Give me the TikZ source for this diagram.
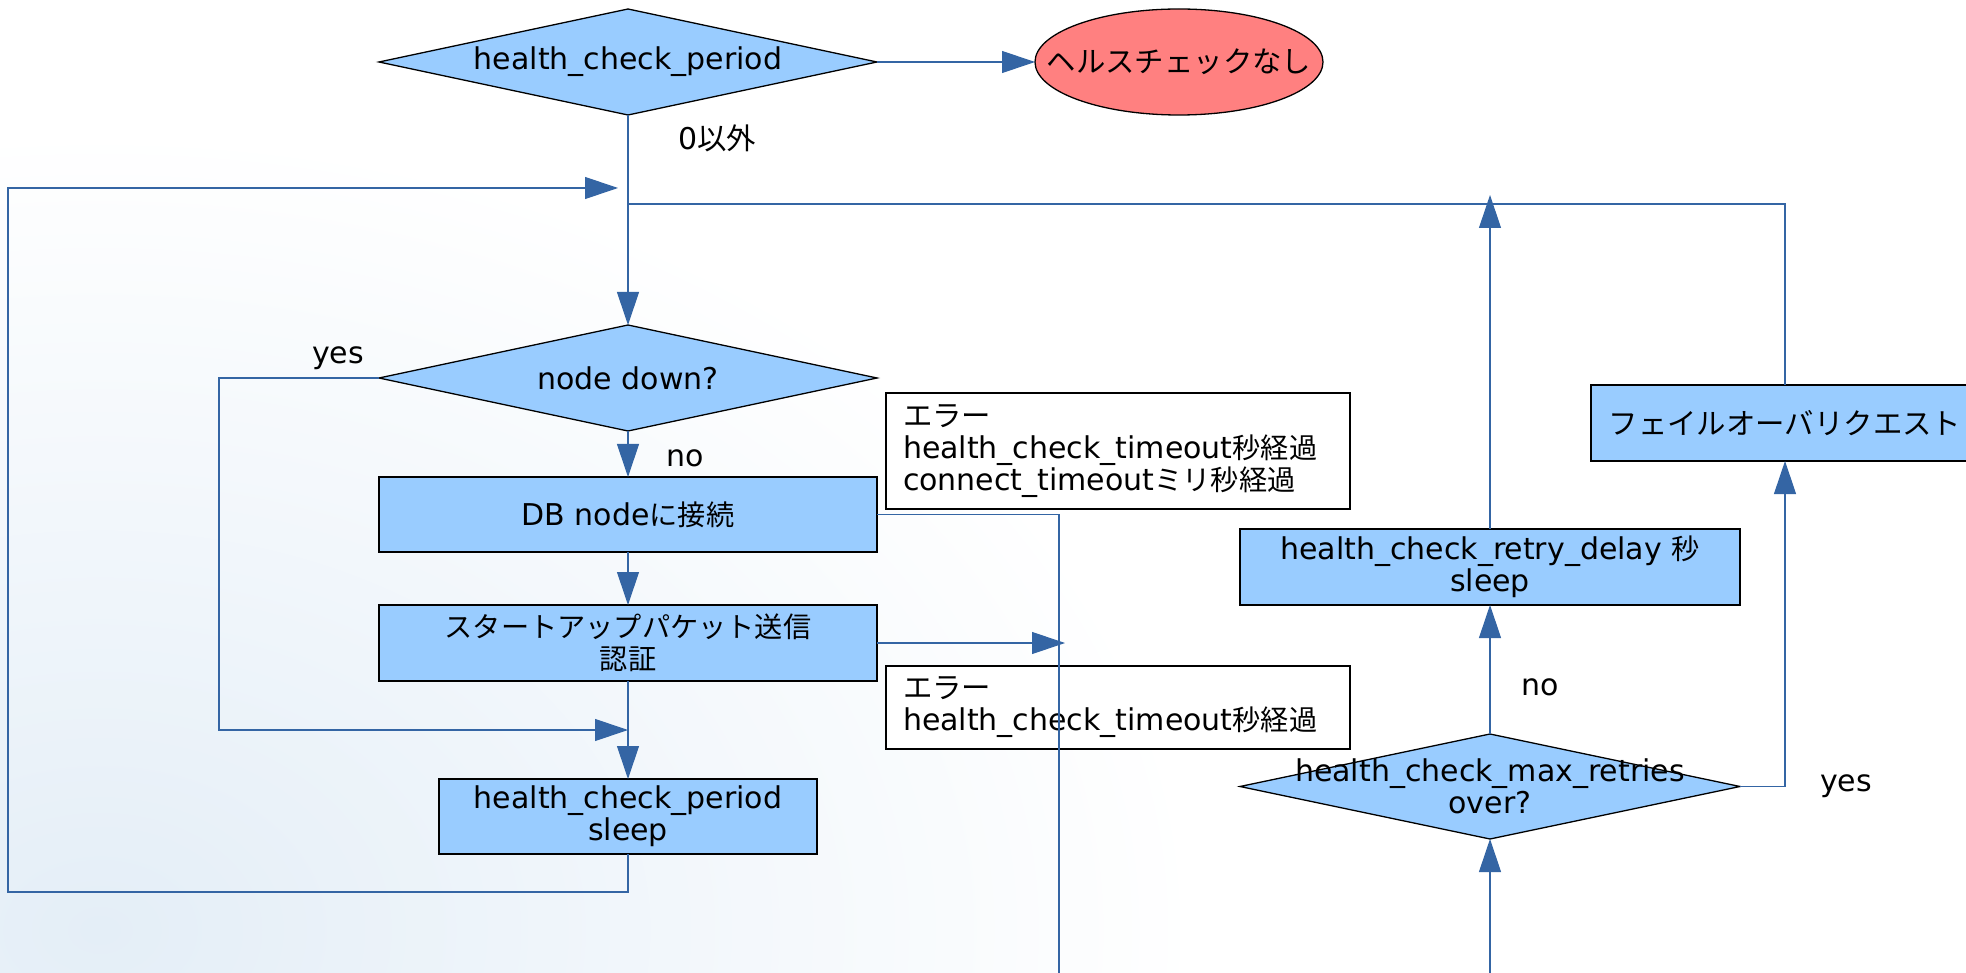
\documentclass[tikz,border=0pt]{standalone}
\usepackage{fontspec}
\setmainfont{DejaVu Sans}
\newfontfamily\jp[Scale=0.94]{Noto Sans CJK JP}
\newfontfamily\jpw[Scale=0.98]{Noto Sans CJK JP}
\usetikzlibrary{shapes.geometric,arrows.meta}
\definecolor{boxblue}{HTML}{99CCFF}
\definecolor{salmon}{HTML}{FF8080}
\definecolor{lineblue}{HTML}{3465A4}
\definecolor{bgblue}{RGB}{228,238,247}
\tikzset{
  txt/.style={font=\fontsize{30pt}{32pt}\selectfont, inner sep=0pt, outer sep=0pt},
  conn/.style={draw=lineblue, line width=1.1pt},
  arr/.style={conn, -{Triangle[length=33pt,width=22pt]}},
  proc/.style={txt, rectangle, draw=black, line width=1.3pt, fill=boxblue, align=center},
  dec/.style={diamond, draw=black, line width=1.3pt, fill=boxblue, inner sep=0pt, outer sep=0pt},
  term/.style={ellipse, draw=black, line width=1.3pt, fill=salmon, inner sep=0pt, outer sep=0pt},
  dtext/.style={txt, align=center},
  note/.style={txt, rectangle, draw=black, line width=1.3pt, fill=white, align=left, inner xsep=17pt, text width=430pt},
  lab/.style={txt, anchor=base west}
}
\begin{document}
\begin{tikzpicture}[x=1pt,y=-1pt]
\useasboundingbox (0,0) rectangle (1966,973);
\fill[white] (0,0) rectangle (1966,973);
\shade[inner color=bgblue, outer color=white] (100,930) ellipse (1100pt and 800pt);

% nodes
\node[dec, minimum width=498pt, minimum height=106pt, label={[dtext]center:health\_check\_period}] (d1) at (628,62) {};
\node[term, minimum width=288pt, minimum height=106pt, label={[dtext]center:{\jpw ヘルスチェックなし}}] (e1) at (1179,62) {};
\node[dec, minimum width=498pt, minimum height=106pt, label={[dtext]center:node down?}] (d2) at (628,378) {};
\node[proc, minimum width=498pt, minimum height=75pt] (b1) at (628,514.5) {DB node{\jp に接続}};
\node[proc, minimum width=498pt, minimum height=76pt] (b2) at (628,643) {{\jp スタートアップパケット送信}\\{\jp 認証}};
\node[proc, minimum width=378pt, minimum height=75pt] (b3) at (628,816.5) {health\_check\_period\\sleep};
\node[note, minimum height=116pt] (n1) at (1118,451) {{\jpw エラー}\\health\_check\_timeout{\jp 秒経過}\\connect\_timeout{\jp ミリ秒経過}};
\node[note, minimum height=83pt] (n2) at (1118,707.5) {{\jpw エラー}\\health\_check\_timeout{\jp 秒経過}};
\node[proc, minimum width=500pt, minimum height=76pt] (b4) at (1490,567) {health\_check\_retry\_delay {\jp 秒}\\sleep};
\node[dec, minimum width=500pt, minimum height=105pt, label={[dtext]center:health\_check\_max\_retries\\over?}] (d3) at (1490,786.5) {};
\node[proc, minimum width=388pt, minimum height=76pt] (b5) at (1785,423) {{\jpw フェイルオーバリクエスト}};

% labels
\node[lab] (l0) at (678,150) {0{\jpw 以外}};
\node[lab] (ly1) at (312,364) {yes};
\node[lab] (ln1) at (666,467) {no};
\node[lab] (ln2) at (1521,695) {no};
\node[lab] (ly2) at (1820,791) {yes};

% free ends
\coordinate (ycorner) at (219,730);
\coordinate (yj) at (628,730);
\coordinate (lbot) at (8,892);
\coordinate (lp) at (618,188);
\coordinate (c1) at (1059,973);
\coordinate (a2) at (1065,643);
\coordinate (c2) at (1490,973);
\coordinate (c3) at (1490,195);
\coordinate (c4) at (628,204);

% connectors
\draw[arr] (d1.east) -- (e1.west);
\draw[arr] (d1.south) -- (d2.north);
\draw[arr] (d2.south) -- (b1.north);
\draw[arr] (b1.south) -- (b2.north);
\draw[arr] (b2.south) -- (b3.north);
\draw[arr] (d2.west) -| (ycorner) -- (yj);
\draw[arr] (b3.south) |- (lbot) |- (lp);
\draw[conn] (b1.east) -| (c1);
\draw[arr] (b2.east) -- (a2);
\draw[arr] (c2) -- (d3.south);
\draw[arr] (d3.north) -- (b4.south);
\draw[arr] (b4.north) -- (c3);
\draw[arr] (d3.east) -| (b5.south);
\draw[conn] (b5.north) |- (c4);
\end{tikzpicture}
\end{document}
